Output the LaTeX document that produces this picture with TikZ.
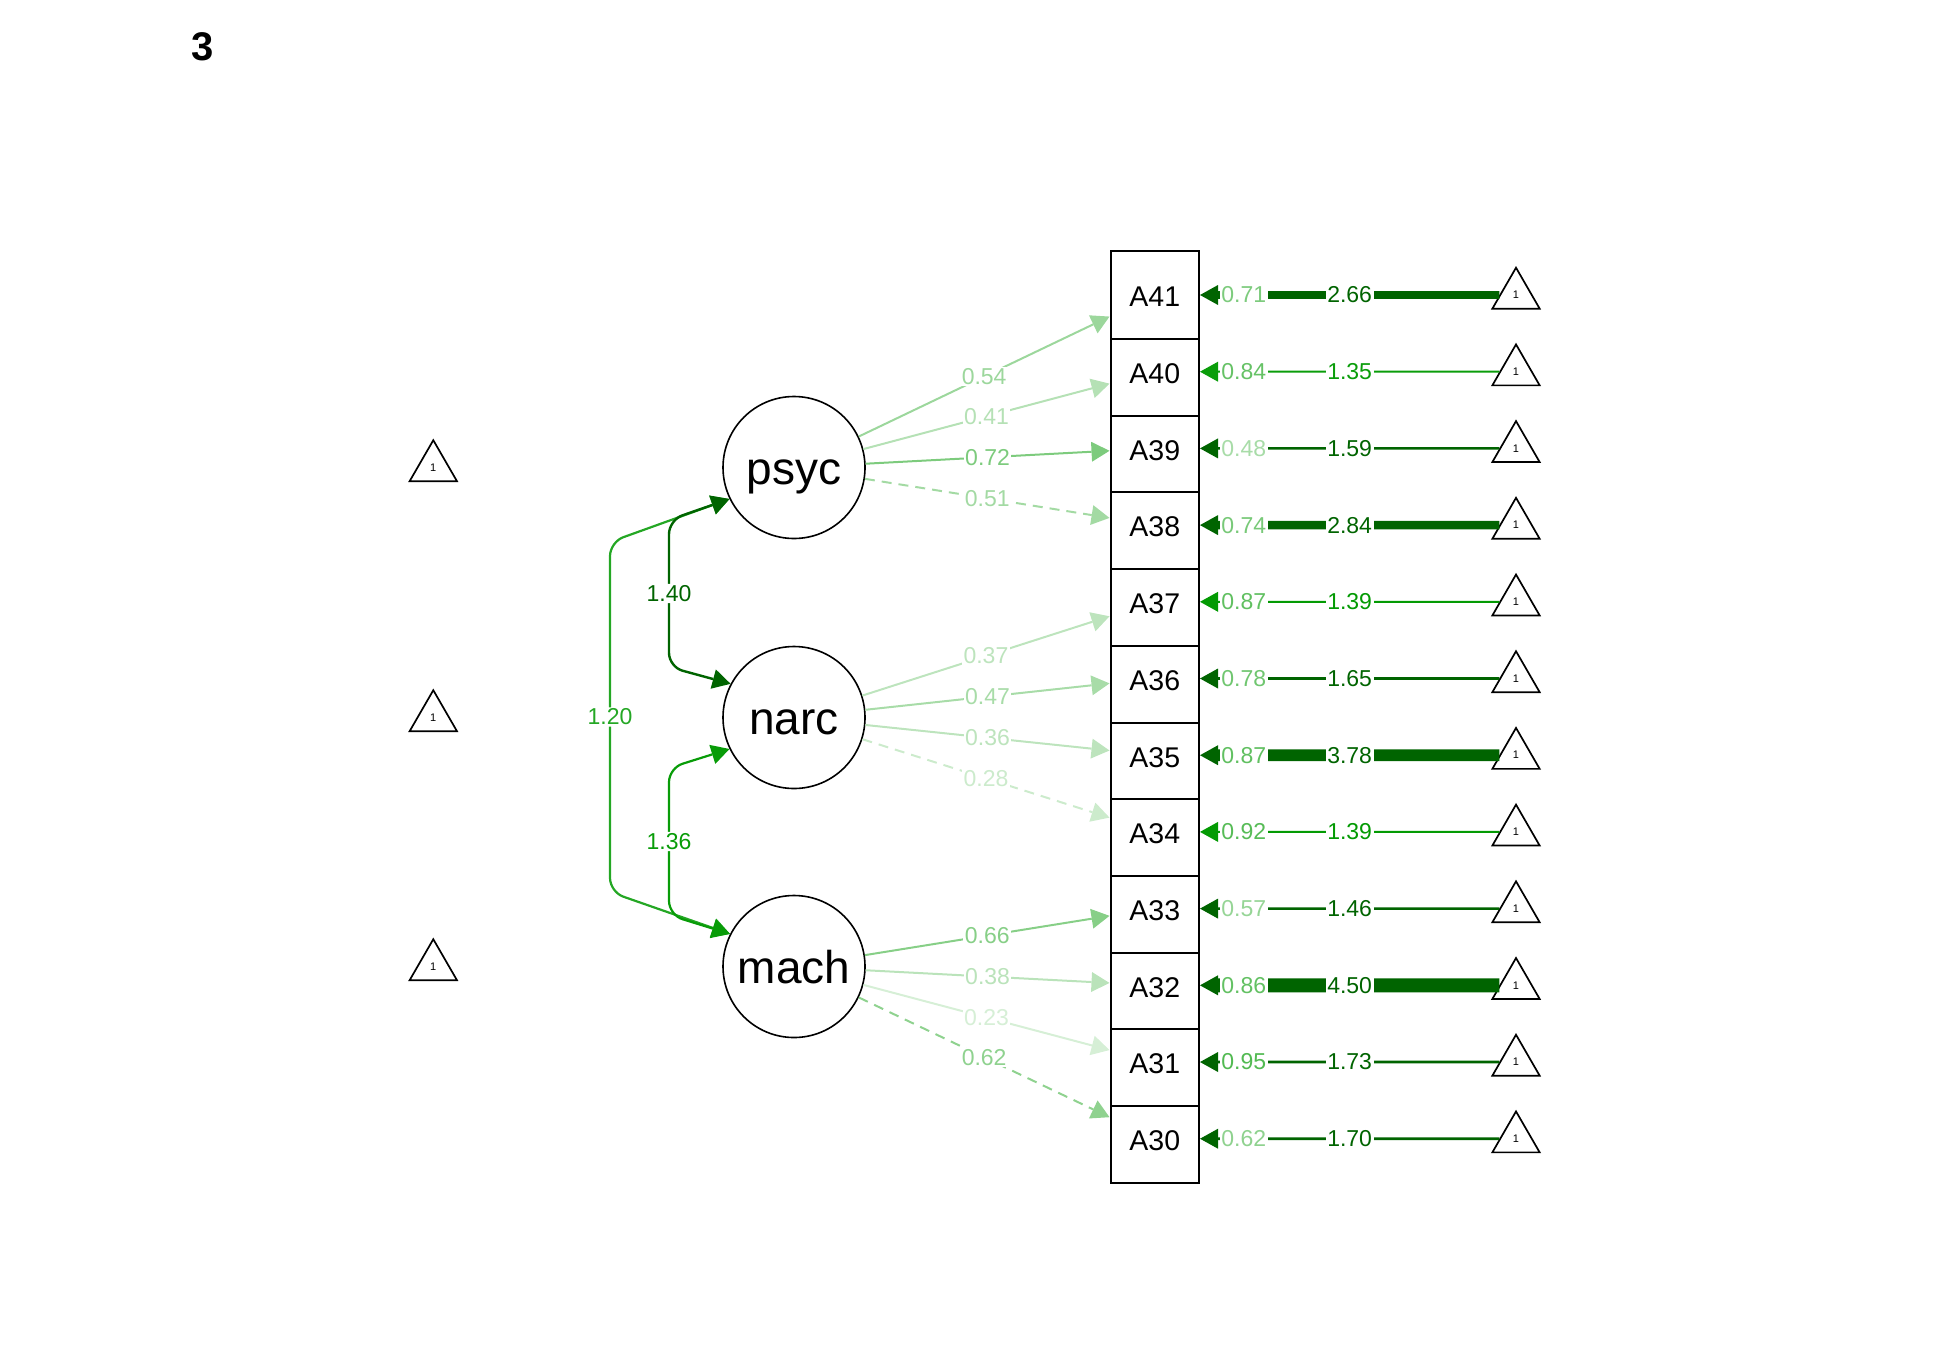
\documentclass[tikz,border=0pt]{standalone}
\usepackage{fontspec}
\setmainfont{Liberation Sans}
\usetikzlibrary{arrows.meta,shapes.geometric}
% strong (above cut) and weak edge colours
\definecolor{dk}{HTML}{006400}
\definecolor{wk}{HTML}{009900}

\begin{document}
\begin{tikzpicture}[x=1pt,y=-1pt,
  >={Triangle[length=18pt 0 1,width=20pt 0 1,line width=0pt]},
  lv/.style={circle,draw,line width=1.6pt,minimum size=142pt,inner sep=0pt,
    font=\fontsize{46}{46}\selectfont,text height=34pt,text depth=0pt},
  mv/.style={rectangle,draw,fill=white,line width=2pt,minimum width=88.5pt,
    minimum height=88pt,inner sep=0pt,font=\fontsize{28.5}{29}\selectfont,
    text height=23.6pt,text depth=0pt},
  itri/.style={regular polygon,regular polygon sides=3,draw,line width=1.7pt,
    minimum size=54.6pt,inner sep=0pt,font=\fontsize{11}{11}\selectfont},
  lab/.style={fill=white,inner sep=1.5pt,font=\fontsize{23}{23}\selectfont},
  ld/.style={->,line width=2pt},
  fx/.style={dash pattern=on 10pt off 7pt},
  cv/.style={<->,rounded corners=14pt},
  ic/.style={->}
]
\useasboundingbox (0,0) rectangle (1950,1350);

% panel number
\node[font=\fontsize{40}{40}\selectfont\bfseries] (num) at (203,46.7) {3};

% latent variables
\node[lv] (psyc) at (794,467.5) {psyc};
\node[lv] (narc) at (794,717.5) {narc};
\node[lv] (mach) at (794,966.5) {mach};

% intercepts of the latent variables
\node[itri] (tpsyc) at (433.3,467.5) {1};
\node[itri] (tnarc) at (433.3,717.5) {1};
\node[itri] (tmach) at (433.3,966.5) {1};

% indicators, stacked from the bottom up so each box overlaps the one below
\foreach \n/\y in {A30/1138.7,A31/1062,A32/985.3,A33/908.6,A34/831.9,A35/755.2,
                   A36/678.5,A37/601.8,A38/525.1,A39/448.4,A40/371.7,A41/295}{
  \node[mv] (\n) at (1154.75,\y) {\n};
  \node[itri] (t\n) at (1516,\y) {1};
}

% factor loadings
\draw[ld,wk!39!white] (psyc) -- node[lab,text=wk!39!white]{0.54} (A41);
\draw[ld,wk!29!white] (psyc) -- node[lab,text=wk!29!white]{0.41} (A40);
\draw[ld,wk!51!white] (psyc) -- node[lab,text=wk!51!white]{0.72} (A39);
\draw[ld,fx,wk!36!white] (psyc) -- node[lab,text=wk!36!white]{0.51} (A38);
\draw[ld,wk!26!white] (narc) -- node[lab,text=wk!26!white]{0.37} (A37);
\draw[ld,wk!34!white] (narc) -- node[lab,text=wk!34!white]{0.47} (A36);
\draw[ld,wk!26!white] (narc) -- node[lab,text=wk!26!white]{0.36} (A35);
\draw[ld,fx,wk!20!white] (narc) -- node[lab,text=wk!20!white]{0.28} (A34);
\draw[ld,wk!47!white] (mach) -- node[lab,text=wk!47!white]{0.66} (A33);
\draw[ld,wk!27!white] (mach) -- node[lab,text=wk!27!white]{0.38} (A32);
\draw[ld,wk!16!white] (mach) -- node[lab,text=wk!16!white]{0.23} (A31);
\draw[ld,fx,wk!44!white] (mach) -- node[lab,text=wk!44!white]{0.62} (A30);

% indicator intercepts
\foreach \n/\sv/\sc/\mv/\mc/\w in {
    A41/0.71/wk!51!white/2.66/dk/7.7,
    A40/0.84/wk!60!white/1.35/wk!96!white/2,
    A39/0.48/wk!34!white/1.59/dk/2.5,
    A38/0.74/wk!53!white/2.84/dk/8.3,
    A37/0.87/wk!62!white/1.39/wk!99!white/2,
    A36/0.78/wk!56!white/1.65/dk/2.6,
    A35/0.87/wk!62!white/3.78/dk/11.7,
    A34/0.92/wk!66!white/1.39/wk!99!white/2,
    A33/0.57/wk!41!white/1.46/dk/2.3,
    A32/0.86/wk!61!white/4.50/dk/14,
    A31/0.95/wk!68!white/1.73/dk/2.7,
    A30/0.62/wk!44!white/1.70/dk/2.7}{
  \draw[ic,color=\mc,line width=\w pt] (t\n) --
    node[lab,text=\mc]{\mv}
    node[lab,pos=0.854,text=\sc]{\sv} (\n);
}

% corners of the covariance brackets
\coordinate (pn1) at (669,520);
\coordinate (pn2) at (669,667);
\coordinate (nm1) at (669,768);
\coordinate (nm2) at (669,915);
\coordinate (pm1) at (610,542);
\coordinate (pm2) at (610,892);

% factor covariances
\draw[cv,wk!86!white,line width=2.2pt] (psyc.206) -- (pm1) --
  node[lab,text=wk!86!white]{1.20} (pm2) -- (mach.153);
\draw[cv,dk,line width=2.4pt] (psyc.206) -- (pn1) --
  node[lab,text=dk]{1.40} (pn2) -- (narc.152);
\draw[cv,wk!97!white,line width=2.2pt] (narc.206) -- (nm1) --
  node[lab,text=wk!97!white]{1.36} (nm2) -- (mach.153);
\end{tikzpicture}
\end{document}
